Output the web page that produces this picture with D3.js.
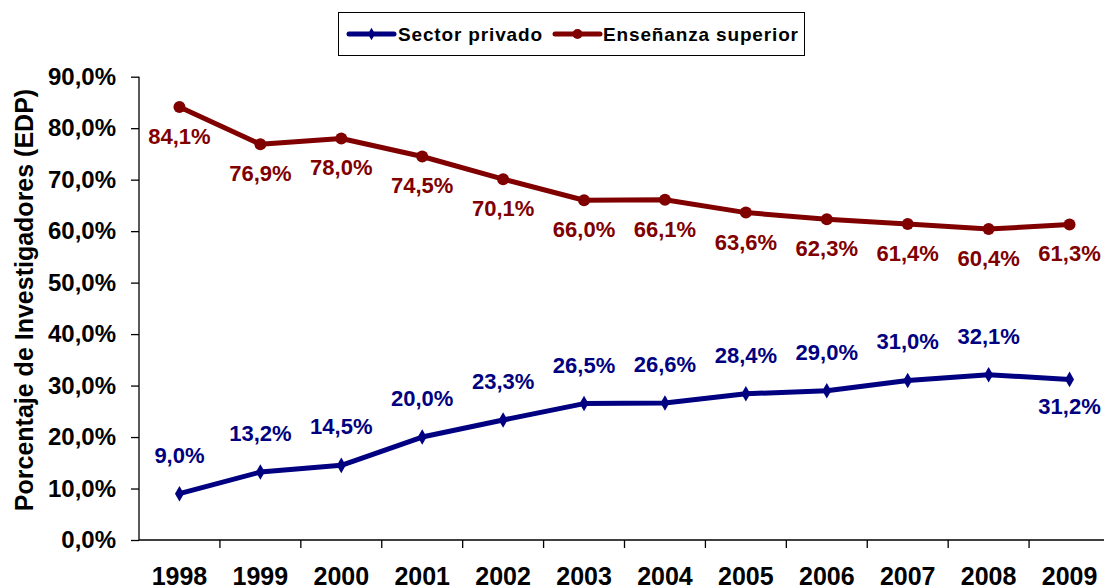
<!DOCTYPE html>
<html><head><meta charset="utf-8">
<script src="https://cdn.jsdelivr.net/npm/d3@7"></script>
<style>body{margin:0;background:#fff}svg{display:block}text{font-family:Arial,"Liberation Sans",sans-serif;font-weight:bold}</style>
</head><body><svg id="c" width="1104" height="587"></svg>
<script>
const years = ["1998","1999","2000","2001","2002","2003","2004","2005","2006","2007","2008","2009"];
const privado = [9.0,13.2,14.5,20.0,23.3,26.5,26.6,28.4,29.0,31.0,32.1,31.2];
const superior = [84.1,76.9,78.0,74.5,70.1,66.0,66.1,63.6,62.3,61.4,60.4,61.3];
const yTicks = [0,10,20,30,40,50,60,70,80,90];
const seriesNames = ["Sector privado","Enseñanza superior"];
const privadoLabelPos = ["above","above","above","above","above","above","above","above","above","above","above","below"];

const svg = d3.select("#c");
const blue = "#000080", red = "#800000";
const x = d3.scaleBand().domain(years).range([139, 1110]);
const y = d3.scaleLinear().domain([0,90]).range([540, 76.7]);
const fmt = v => v.toFixed(1).replace(".", ",") + "%";

// y axis
const ya = svg.append("g").attr("transform","translate(139,0)")
  .call(d3.axisLeft(y).tickValues(yTicks).tickSize(8).tickPadding(15).tickFormat(fmt));
ya.selectAll("text").attr("font-size",24).attr("fill","#000").attr("font-family","Arial, Liberation Sans").attr("font-weight","bold");
ya.select(".domain").attr("stroke","#000").attr("stroke-width",1.3).attr("d","M0,540V76.7");
ya.selectAll(".tick line").attr("stroke","#000").attr("stroke-width",1.3);

// x axis
const xa = svg.append("g").attr("transform","translate(0,540)")
  .call(d3.axisBottom(x).tickSize(0));
xa.select(".domain").attr("stroke","#000").attr("stroke-width",1.3).attr("d","M139,0H1110");
xa.selectAll("text").attr("y",45).attr("dy",0).attr("font-size",25).attr("fill","#000").attr("font-family","Arial, Liberation Sans").attr("font-weight","bold");
svg.append("g").selectAll("line").data(years.slice(1)).join("line")
  .attr("x1",d=>x(d)).attr("x2",d=>x(d)).attr("y1",540).attr("y2",548)
  .attr("stroke","#000").attr("stroke-width",1.3);

// axis title
svg.append("text").attr("transform","translate(33,300) rotate(-90)")
  .attr("text-anchor","middle").attr("font-size",25).attr("fill","#000")
  .text("Porcentaje de Investigadores (EDP)");

const cx = d => x(d) + x.bandwidth()/2;
const line = d3.line().x((v,i)=>cx(years[i])).y(v=>y(v));

// superior
svg.append("path").datum(superior).attr("d",line).attr("fill","none")
  .attr("stroke",red).attr("stroke-width",5).attr("stroke-linejoin","round");
svg.append("g").selectAll("circle").data(superior).join("circle")
  .attr("cx",(v,i)=>cx(years[i])).attr("cy",v=>y(v)).attr("r",6).attr("fill",red);
svg.append("g").selectAll("text").data(superior).join("text")
  .attr("x",(v,i)=>cx(years[i])).attr("y",v=>y(v)+37).attr("text-anchor","middle")
  .attr("font-size",22).attr("fill",red).text(fmt);

// privado
svg.append("path").datum(privado).attr("d",line).attr("fill","none")
  .attr("stroke",blue).attr("stroke-width",5).attr("stroke-linejoin","round");
const diamond = d3.symbol().type(d3.symbolDiamond).size(70);
svg.append("g").selectAll("path").data(privado).join("path")
  .attr("transform",(v,i)=>`translate(${cx(years[i])},${y(v)})`).attr("d",diamond).attr("fill",blue);
svg.append("g").selectAll("text").data(privado).join("text")
  .attr("x",(v,i)=>cx(years[i])).attr("y",(v,i)=>privadoLabelPos[i]==="above"? y(v)-31 : y(v)+35)
  .attr("text-anchor","middle").attr("font-size",22).attr("fill",blue).text(fmt);

// legend
const lg = svg.append("g");
lg.append("rect").attr("x",338.5).attr("y",12.5).attr("width",466).attr("height",43)
  .attr("fill","#fff").attr("stroke","#000").attr("stroke-width",1);
const items = [{name:seriesNames[0],color:blue,x0:349,tx:398,sym:"d"},{name:seriesNames[1],color:red,x0:555,tx:603,sym:"c"}];
items.forEach(it=>{
  lg.append("line").attr("x1",it.x0).attr("x2",it.x0+45).attr("y1",34).attr("y2",34)
    .attr("stroke",it.color).attr("stroke-width",5).attr("stroke-linecap","round");
  if(it.sym==="d") lg.append("path").attr("transform",`translate(${it.x0+22.5},34)`).attr("d",d3.symbol().type(d3.symbolDiamond).size(45)).attr("fill",it.color);
  else lg.append("circle").attr("cx",it.x0+22.5).attr("cy",34).attr("r",5).attr("fill",it.color);
  lg.append("text").attr("x",it.tx).attr("y",41).attr("font-size",19).attr("fill","#000").attr("letter-spacing",0.85).text(it.name);
});
</script></body></html>
